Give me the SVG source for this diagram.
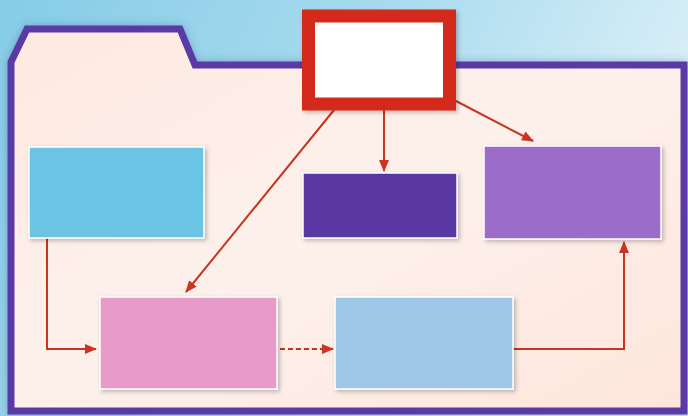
<svg xmlns="http://www.w3.org/2000/svg" width="688" height="416" viewBox="0 0 688 416">
  <defs>
    <linearGradient id="bg" x1="0" y1="0" x2="1" y2="0.3">
      <stop offset="0" stop-color="#86cce6"/>
      <stop offset="0.5" stop-color="#a6daee"/>
      <stop offset="1" stop-color="#dcf0f8"/>
    </linearGradient>
    <linearGradient id="folder" x1="0" y1="0" x2="1" y2="1">
      <stop offset="0" stop-color="#fde9e1"/>
      <stop offset="0.5" stop-color="#fdf1ec"/>
      <stop offset="1" stop-color="#fde6dc"/>
    </linearGradient>
    <filter id="sh" x="-10%" y="-10%" width="125%" height="130%">
      <feDropShadow dx="2" dy="2" stdDeviation="2" flood-color="#000" flood-opacity="0.25"/>
    </filter>
    <filter id="fsh" x="-5%" y="-5%" width="110%" height="112%">
      <feDropShadow dx="0" dy="0" stdDeviation="4" flood-color="#3a4a8a" flood-opacity="0.35"/>
    </filter>
    <marker id="ah" viewBox="0 0 12 10" refX="11" refY="5" markerWidth="12" markerHeight="10" markerUnits="userSpaceOnUse" orient="auto">
      <path d="M0,0 L12,5 L0,10 z" fill="#cc3322"/>
    </marker>
    <style>
      .box { stroke: #ffffff; stroke-width: 1.5; filter: url(#sh); }
      .conn { fill: none; stroke: #c8351f; stroke-width: 2; marker-end: url(#ah); }
    </style>
  </defs>
  <rect x="0" y="0" width="688" height="416" fill="url(#bg)"/>
  <g id="folder">
    <path d="M11,62 L27,29 L180,29 L195,65 L684,65 L684,411 L11,411 Z" fill="url(#folder)" stroke="#5a3aa6" stroke-width="7" stroke-linejoin="miter" filter="url(#fsh)"/>
  </g>
  <g id="connectors">
    <line class="conn" x1="334" y1="110" x2="186" y2="292"/>
    <line class="conn" x1="384" y1="110" x2="384" y2="171"/>
    <line class="conn" x1="456" y1="101" x2="533" y2="141"/>
    <polyline class="conn" points="47,238 47,349 96,349"/>
    <line class="conn" x1="280" y1="349" x2="333" y2="349" stroke-dasharray="5,3"/>
    <polyline class="conn" points="513,349 624,349 624,242"/>
  </g>
  <g id="top">
    <rect x="308.5" y="16" width="141" height="88" fill="#ffffff" stroke="#d42a1a" stroke-width="13" filter="url(#sh)"/>
  </g>
  <g id="cyan">
    <rect class="box" x="29" y="147" width="175" height="91" fill="#6cc4e4"/>
  </g>
  <g id="darkpurple">
    <rect class="box" x="303" y="173" width="154" height="65" fill="#5a38a4"/>
  </g>
  <g id="lilac">
    <rect class="box" x="484" y="146" width="177" height="93" fill="#9b6cc8"/>
  </g>
  <g id="pink">
    <rect class="box" x="100" y="297" width="177" height="92" fill="#e89ac8"/>
  </g>
  <g id="lightblue">
    <rect class="box" x="335" y="297" width="178" height="92" fill="#9fc8e8"/>
  </g>
</svg>
